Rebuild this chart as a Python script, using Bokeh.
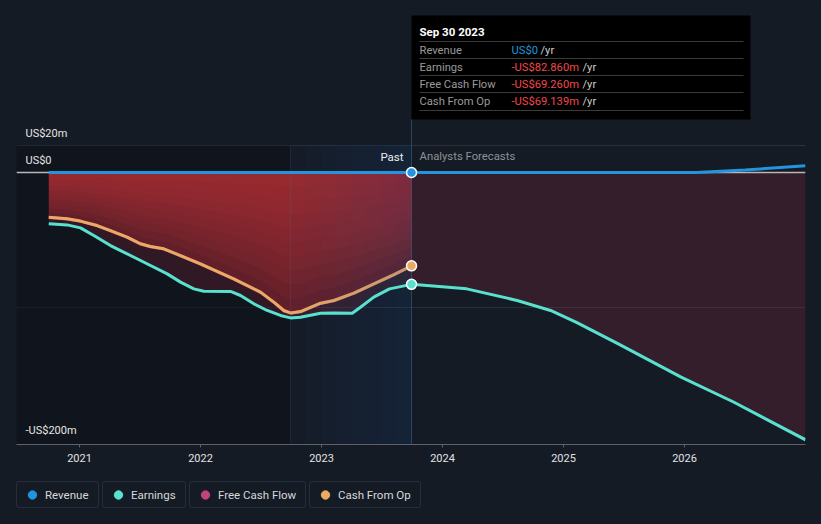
from bokeh.plotting import figure
from bokeh.layouts import column
from bokeh.models import Range1d, FixedTicker, Legend, LegendItem, Grid
from bokeh.core.properties import value
from bokeh.embed import file_html
from bokeh.resources import INLINE

# ---------------- data (US$ millions, decimal years) ----------------
earn_past_t = [2020.746, 2020.898, 2021.008, 2021.118, 2021.256, 2021.504, 2021.725, 2021.835,
               2021.945, 2022.027, 2022.248, 2022.331, 2022.441, 2022.551, 2022.661, 2022.744,
               2022.826, 2022.992, 2023.102, 2023.254, 2023.322, 2023.432, 2023.562, 2023.744]
earn_past_v = [-38.0, -38.8, -41.0, -46.7, -54.1, -65.2, -75.1, -81.2,
               -86.2, -87.9, -88.1, -91.1, -97.3, -102.2, -105.9, -107.7,
               -107.2, -104.2, -104.0, -104.2, -99.8, -92.3, -86.2, -82.86]
earn_fc_t = [2023.744, 2024.2, 2024.617, 2024.893, 2025.107, 2025.453, 2025.972, 2026.405, 2027.0]
earn_fc_v = [-82.86, -86.2, -94.8, -102.2, -111.0, -126.9, -151.6, -170.0, -198.0]

cfo_t = [2020.746, 2020.898, 2021.008, 2021.146, 2021.256, 2021.394, 2021.504, 2021.587,
         2021.697, 2021.835, 2022.0, 2022.275, 2022.496, 2022.606, 2022.688, 2022.744,
         2022.826, 2022.992, 2023.102, 2023.267, 2023.432, 2023.598, 2023.744]
cfo_v = [-33.1, -34.3, -36.0, -39.3, -43.0, -47.9, -52.8, -54.8,
         -56.5, -61.5, -67.7, -78.8, -88.6, -96.0, -102.2, -104.0,
         -103.0, -96.8, -94.8, -89.4, -82.5, -75.6, -69.139]
fcf_t = cfo_t
fcf_v = [-33.3, -34.5, -36.2, -39.5, -43.2, -48.1, -53.0, -55.0,
         -56.7, -61.7, -67.9, -79.0, -88.8, -96.2, -102.4, -104.2,
         -103.2, -97.0, -95.0, -89.6, -82.7, -75.8, -69.26]

rev_t = [2020.746, 2023.744, 2024.5, 2025.5, 2026.1, 2026.5, 2027.0]
rev_v = [0.0, 0.0, 0.0, 0.0, 0.0, 1.8, 5.0]

year_ticks = [2021, 2022, 2023, 2024, 2025, 2026]
year_labels = ["2021", "2022", "2023", "2024", "2025", "2026"]
ytick_vals = [20, 0, -200]
ytick_labels = ["US$20m", "US$0", "-US$200m"]
grid_vals = [20, -100]

anchor_t = 2023.744          # Sep 30 2023
anchor_label = "Sep 30 2023"
tip_names = ["Revenue", "Earnings", "Free Cash Flow", "Cash From Op"]
tip_values = ["US$0", "-US$82.860m", "-US$69.260m", "-US$69.139m"]
tip_colors = ["#2394df", "#f2474c", "#f2474c", "#f2474c"]
marker_vals = [0.0, -69.139, -82.86]

legend_names = ["Revenue", "Earnings", "Free Cash Flow", "Cash From Op"]
legend_colors = ["#2394df", "#58e1cf", "#c0427f", "#e9ab62"]

# ---------------- styling ----------------
BG = "#151b25"
FONT = "Roboto"
PXY = 121.0      # px per year
PXV = 1.35       # px per US$m
X0 = 2021 - 63 / PXY
X1 = 2021 + 726 / PXY
Y0 = (172 - 444) / PXV
Y1 = (172 - 8) / PXV

def sx(px):  # page px -> data x
    return X0 + (px - 16) / PXY

def sy(py):  # page px -> data y
    return (172 - py) / PXV

p = figure(width=821, height=474, x_range=Range1d(X0, X1), y_range=Range1d(Y0, Y1),
           output_backend="svg", toolbar_location=None, y_axis_location=None,
           min_border_left=16, min_border_right=16, min_border_top=8, min_border_bottom=30,
           background_fill_color=BG, border_fill_color=BG, outline_line_color=None,
           styles={"background-color": BG})
p.xgrid.visible = False
p.ygrid.visible = False
p.add_layout(Grid(dimension=1, ticker=FixedTicker(ticks=grid_vals),
                  grid_line_color="#2a2f38", grid_line_width=1))

ax = p.xaxis[0]
ax.ticker = FixedTicker(ticks=year_ticks)
ax.major_label_overrides = {t: l for t, l in zip(year_ticks, year_labels)}
ax.axis_line_color = "#5d626b"
ax.major_tick_line_color = "#5d626b"
ax.major_tick_in = 0
ax.major_tick_out = 3
ax.minor_tick_line_color = None
ax.major_label_text_color = "#e2e2e2"
ax.major_label_text_font = FONT
ax.major_label_text_font_size = "11px"
ax.major_label_standoff = 6

# past (dark) region
p.quad(left=[X0], right=[anchor_t - 1], top=[20], bottom=[Y0],
       fill_color="#0a0d12", fill_alpha=0.45, line_color=None)

# earnings area (revenue -> earnings)
earn_t = earn_past_t + earn_fc_t[1:]
earn_v = earn_past_v + earn_fc_v[1:]
p.varea(x=earn_t, y1=[0] * len(earn_t), y2=earn_v, fill_color="#8a2a3a", fill_alpha=0.27)

# cash flow area with vertical shading
p.varea(x=cfo_t, y1=[0] * len(cfo_t), y2=cfo_v, fill_color="#66202a", fill_alpha=0.95)
for i in range(1, 10):
    k = 1 - i / 10
    p.varea(x=cfo_t, y1=[0] * len(cfo_t), y2=[v * k for v in cfo_v],
            fill_color="#c4383f", fill_alpha=0.085)

# zero line
p.segment(x0=[X0], x1=[X1], y0=[0], y1=[0], line_color="#b8b8b8", line_width=1.5)

# cash lines
p.line(fcf_t, fcf_v, line_color=legend_colors[2], line_width=3)
p.line(cfo_t, cfo_v, line_color=legend_colors[3], line_width=3)

# highlight of last year (stepped horizontal gradient)
for i in range(8):
    p.quad(left=[anchor_t - 1 + i / 8], right=[anchor_t], top=[20], bottom=[Y0],
           fill_color="#1e6aa8", fill_alpha=0.024, line_color=None)

tip_top = sy(15)
tip_bottom = sy(119)
p.segment(x0=[anchor_t - 1, anchor_t], x1=[anchor_t - 1, anchor_t], y0=[Y0, Y0], y1=[20, tip_bottom],
          line_color="#4a7aa0", line_alpha=[0.2, 0.45], line_width=1)

# earnings + revenue lines
p.line(earn_t, earn_v, line_color=legend_colors[1], line_width=3)
p.line(rev_t, rev_v, line_color=legend_colors[0], line_width=3)

# markers
p.scatter(x=[anchor_t] * 3, y=marker_vals, size=10,
          fill_color=[legend_colors[0], legend_colors[3], legend_colors[1]],
          line_color="#ffffff", line_width=1.5)

# y labels
p.text(x=[sx(25)] * 3, y=ytick_vals, text=ytick_labels, text_font=value(FONT),
       text_font_size=value("11px"), text_color="#e6e6e6", text_baseline="bottom", y_offset=-6)

# Past / Analysts Forecasts
p.text(x=[anchor_t], y=[0], text=["Past"], text_font=value(FONT), text_font_size=value("11.5px"),
       text_color="#ececec", text_align="right", text_baseline="middle", x_offset=-8, y_offset=-16)
p.text(x=[anchor_t], y=[0], text=["Analysts Forecasts"], text_font=value(FONT),
       text_font_size=value("11.3px"), text_color="#8c9197", text_align="left",
       text_baseline="middle", x_offset=8, y_offset=-16)

# tooltip box
p.quad(left=[anchor_t], right=[sx(750)], top=[tip_top], bottom=[tip_bottom],
       fill_color="#000000", line_color=None)
p.text(x=[sx(419)], y=[sy(31)], text=[anchor_label], text_font=value(FONT),
       text_font_size=value("11.5px"), text_font_style="bold", text_color="#ffffff",
       text_baseline="middle")
sep_px = [41, 58, 75, 92, 110]
p.segment(x0=[sx(419)] * 5, x1=[sx(743)] * 5, y0=[sy(v) for v in sep_px], y1=[sy(v) for v in sep_px],
          line_color="#3a3a3a", line_width=1)
row_py = [49.5, 66.5, 84, 101]
p.text(x=[sx(419)] * 4, y=[sy(v) for v in row_py], text=tip_names, text_font=value(FONT),
       text_font_size=value("11.2px"), text_color="#9a9a9a", text_baseline="middle")
p.text(x=[sx(511)] * 4, y=[sy(v) for v in row_py], text=tip_values, text_font=value(FONT),
       text_font_size=value("11.2px"), text_color=tip_colors, text_baseline="middle")
p.text(x=[sx(540), sx(582), sx(582), sx(582)], y=[sy(v) for v in row_py], text=["/yr"] * 4,
       text_font=value(FONT), text_font_size=value("11.2px"), text_color="#cfcfcf",
       text_baseline="middle")

# legend strip (one bordered box per series)
lf = figure(width=821, height=50, x_range=Range1d(0, 1), y_range=Range1d(0, 1),
            output_backend="svg", toolbar_location=None, x_axis_location=None, y_axis_location=None,
            min_border_left=16, min_border_right=16, min_border_top=0, min_border_bottom=0,
            background_fill_color=BG, border_fill_color=BG, outline_line_color=None,
            styles={"background-color": BG})
lf.grid.visible = False
leg_x = [0, 86, 173, 293]
leg_label_w = [51, 52, 85, 80]
for name, col, lx, lw in zip(legend_names, legend_colors, leg_x, leg_label_w):
    r = lf.scatter(x=[-10], y=[-10], size=10, fill_color=col, line_color=col)
    lg = Legend(items=[LegendItem(label=name, renderers=[r])], location=(lx, 16),
                orientation="horizontal", border_line_color="#3a3f48", border_line_width=1,
                background_fill_color=BG, background_fill_alpha=1.0,
                label_text_font=FONT, label_text_font_size="11.5px", label_text_color="#d8d8d8",
                padding=2, glyph_width=26, glyph_height=21, label_standoff=0,
                label_height=12, label_width=lw,
                spacing=0, margin=0, border_radius=3)
    lf.add_layout(lg, "center")

layout = column(p, lf, spacing=0, styles={"background-color": BG})
html = file_html(layout, INLINE)
html = html.replace("</head>", "<style>html,body{background:#151b25;}</style></head>", 1)
open("out.html", "w").write(html)
